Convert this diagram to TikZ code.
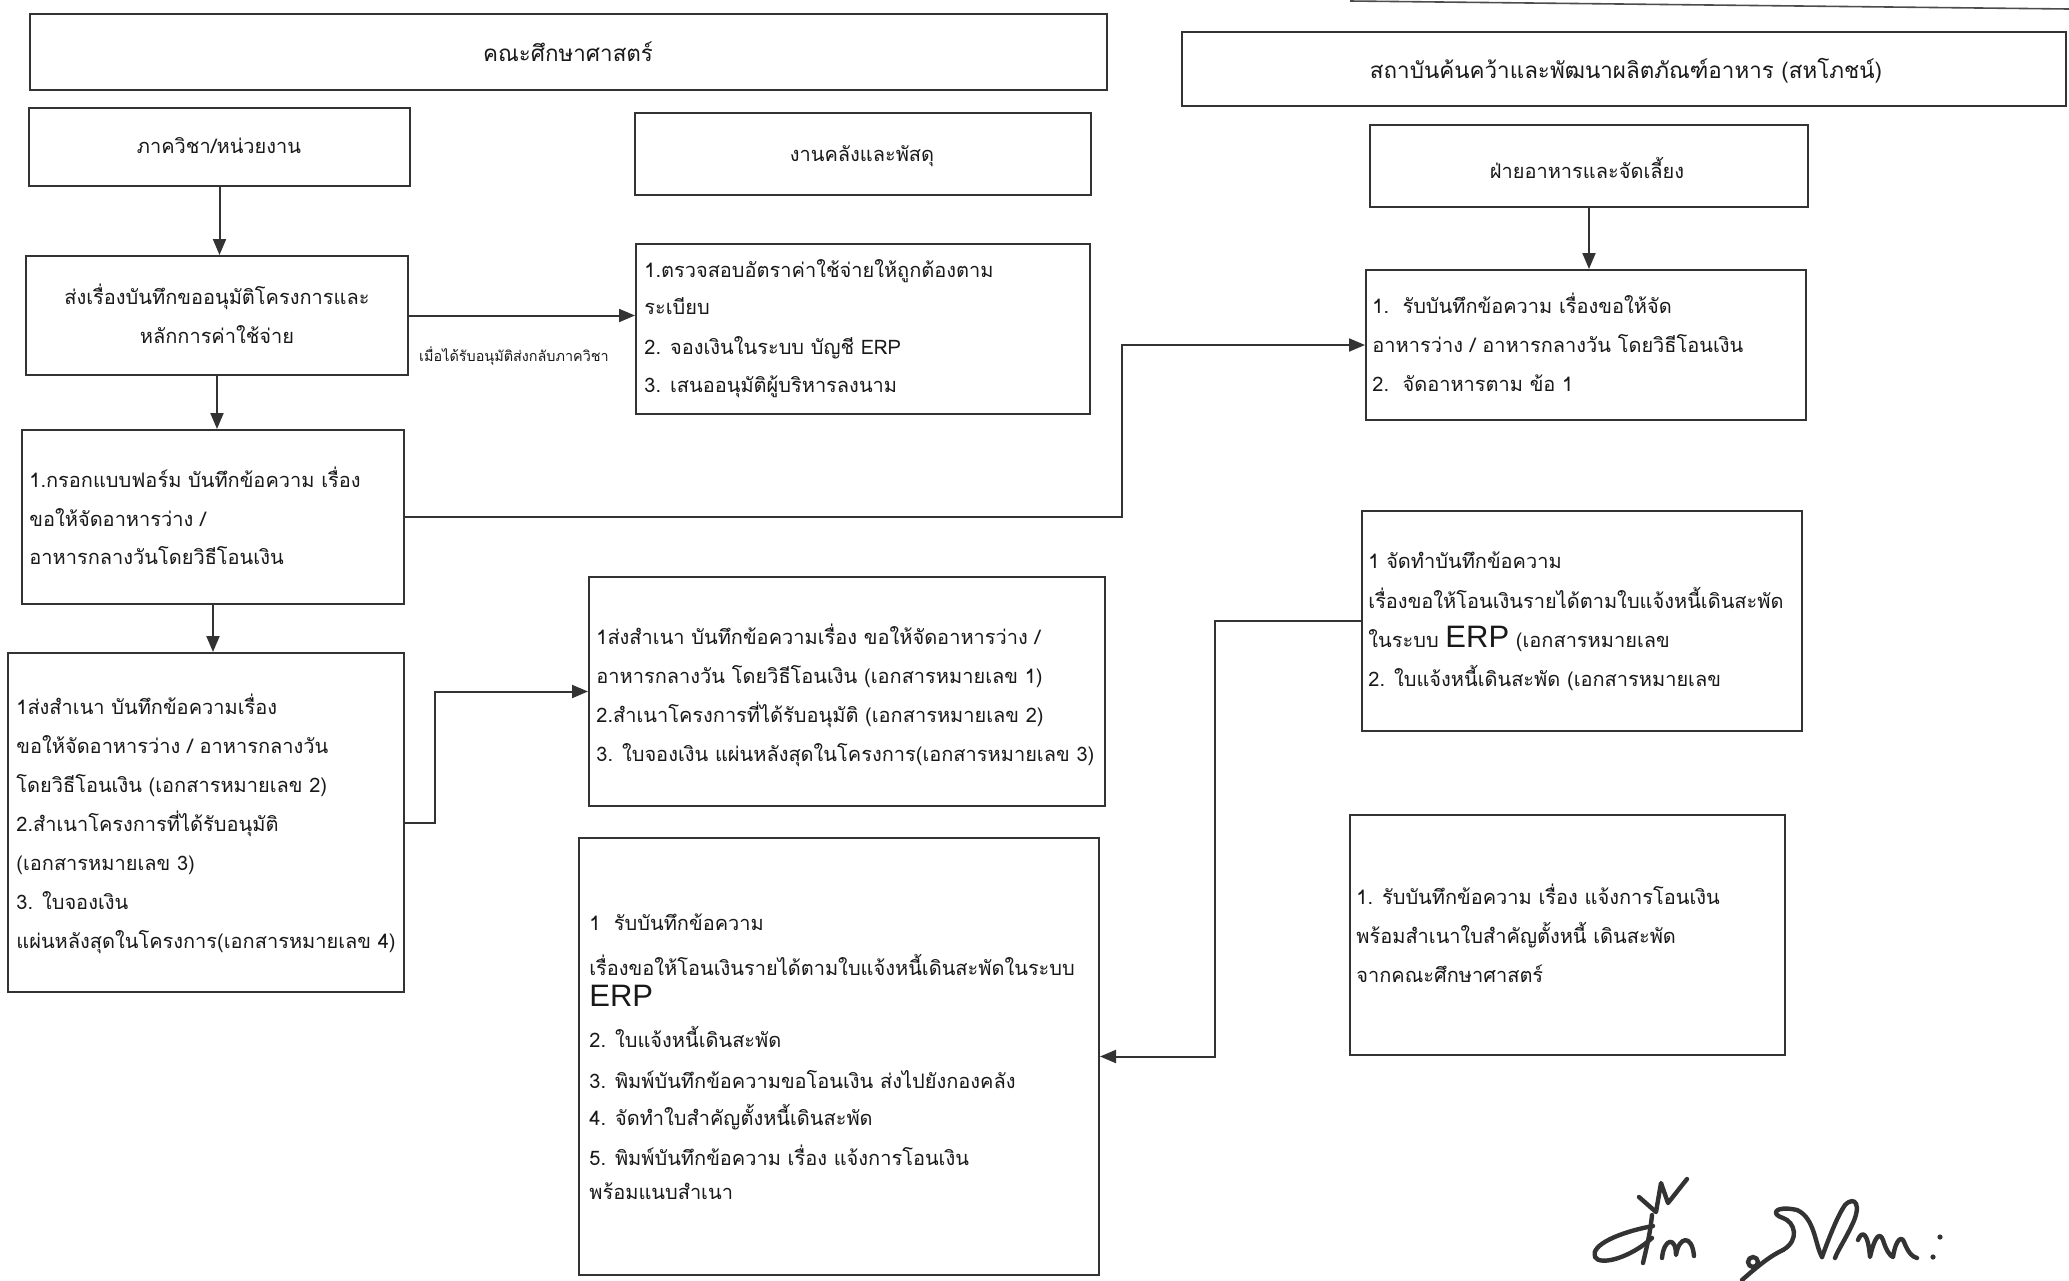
\documentclass[tikz,border=0pt]{standalone}
\usepackage{fontspec}
\newfontfamily\thaifont[Script=Thai]{Loma}
\newfontfamily\erpfont{Liberation Sans}
\usetikzlibrary{arrows.meta}
\newcommand\mybox[5]{\node[boxst, minimum width={(#4-#2)*0.5pt}, minimum height={(#5-#3)*0.5pt}] (#1) at ({(#2+#4)/2},{(#3+#5)/2}) {};}
\newcommand\bigerp{{\erpfont\fontsize{15.5}{19.5}\selectfont ERP}}
\begin{document}
\begin{tikzpicture}[x=0.5pt,y=-0.5pt,
  boxst/.style={draw=black!80, line width=1pt, inner sep=0pt},
  txt/.style={inner sep=0pt, text=black!90, font=\thaifont\fontsize{10}{19.5}\selectfont},
  head/.style={inner sep=0pt, text=black!90, font=\thaifont\fontsize{11.2}{16}\selectfont},
  small/.style={inner sep=0pt, text=black!90, font=\thaifont\fontsize{7.2}{10}\selectfont},
  arr/.style={draw=black!80, line width=1pt, -{Triangle[length=8pt,width=6.5pt]}},
  sig/.style={draw=black!80, line width=2.2pt, line cap=round, line join=round}]
\useasboundingbox (0,0) rectangle (2069,1281);
\fill[white] (0,0) rectangle (2069,1281);

% fragment of a line at the top edge
\draw[draw=black!70, line width=0.8pt] (1350,1) -- (2069,9);

% boxes
\mybox{hL}{30}{14}{1107}{90}
\mybox{hR}{1182}{32}{2066}{106}
\mybox{bPhak}{29}{108}{410}{186}
\mybox{bKlang}{635}{113}{1091}{195}
\mybox{bFai}{1370}{125}{1808}{207}
\mybox{bSong}{26}{256}{408}{375}
\mybox{bTruat}{636}{244}{1090}{414}
\mybox{bKrok}{22}{430}{404}{604}
\mybox{bRub}{1366}{270}{1806}{420}
\mybox{bSamL}{8}{653}{404}{992}
\mybox{bSamM}{589}{577}{1105}{806}
\mybox{bJat}{1362}{511}{1802}{731}
\mybox{bBotM}{579}{838}{1099}{1275}
\mybox{bBotR}{1350}{815}{1785}{1055}

% texts
\node[head] (hLt) at (568,52) {คณะศึกษาศาสตร์};
\node[head] (hRt) at (1626,71) {สถาบันค้นคว้าและพัฒนาผลิตภัณฑ์อาหาร (สหโภชน์)};
\node[txt] (bPhakt) at (219,146) {ภาควิชา/หน่วยงาน};
\node[txt] (bKlangt) at (862,156) {งานคลังและพัสดุ};
\node[txt] (bFait) at (1587,168) {ฝ่ายอาหารและจัดเลี้ยง};

\node[txt, anchor=base] (song1) at (217,304) {ส่งเรื่องบันทึกขออนุมัติโครงการและ};
\node[txt, anchor=base] (song2) at (217,343) {หลักการค่าใช้จ่าย};

\node[txt, anchor=base west] (tr1) at (644,277) {1.ตรวจสอบอัตราค่าใช้จ่ายให้ถูกต้องตาม};
\node[txt, anchor=base west] (tr2) at (644,314) {ระเบียบ};
\node[txt, anchor=base west] (tr3) at (644,354) {2. จองเงินในระบบ บัญชี ERP};
\node[txt, anchor=base west] (tr4) at (644,392) {3. เสนออนุมัติผู้บริหารลงนาม};

\node[txt, anchor=base west] (kr1) at (29,487) {1.กรอกแบบฟอร์ม บันทึกข้อความ เรื่อง};
\node[txt, anchor=base west] (kr2) at (29,526) {ขอให้จัดอาหารว่าง /};
\node[txt, anchor=base west] (kr3) at (29,564) {อาหารกลางวันโดยวิธีโอนเงิน};

\node[txt, anchor=base west] (rb1) at (1372,313) {1.\ \ รับบันทึกข้อความ เรื่องขอให้จัด};
\node[txt, anchor=base west] (rb2) at (1372,352) {อาหารว่าง / อาหารกลางวัน โดยวิธีโอนเงิน};
\node[txt, anchor=base west] (rb3) at (1372,391) {2.\ \ จัดอาหารตาม ข้อ 1};

\node[txt, anchor=base west] (sl1) at (16,714) {1ส่งสำเนา บันทึกข้อความเรื่อง};
\node[txt, anchor=base west] (sl2) at (16,753) {ขอให้จัดอาหารว่าง / อาหารกลางวัน};
\node[txt, anchor=base west] (sl3) at (16,792) {โดยวิธีโอนเงิน (เอกสารหมายเลข 2)};
\node[txt, anchor=base west] (sl4) at (16,831) {2.สำเนาโครงการที่ได้รับอนุมัติ};
\node[txt, anchor=base west] (sl5) at (16,870) {(เอกสารหมายเลข 3)};
\node[txt, anchor=base west] (sl6) at (16,909) {3. ใบจองเงิน};
\node[txt, anchor=base west] (sl7) at (16,948) {แผ่นหลังสุดในโครงการ(เอกสารหมายเลข 4)};

\node[txt, anchor=base west] (sm1) at (596,644) {1ส่งสำเนา บันทึกข้อความเรื่อง ขอให้จัดอาหารว่าง /};
\node[txt, anchor=base west] (sm2) at (596,683) {อาหารกลางวัน โดยวิธีโอนเงิน (เอกสารหมายเลข 1)};
\node[txt, anchor=base west] (sm3) at (596,722) {2.สำเนาโครงการที่ได้รับอนุมัติ (เอกสารหมายเลข 2)};
\node[txt, anchor=base west] (sm4) at (596,761) {3. ใบจองเงิน แผ่นหลังสุดในโครงการ(เอกสารหมายเลข 3)};

\node[txt, anchor=base west] (jt1) at (1368,568) {1 จัดทำบันทึกข้อความ};
\node[txt, anchor=base west] (jt2) at (1368,608) {เรื่องขอให้โอนเงินรายได้ตามใบแจ้งหนี้เดินสะพัด};
\node[txt, anchor=base west] (jt3) at (1368,647) {ในระบบ \bigerp{} (เอกสารหมายเลข};
\node[txt, anchor=base west] (jt4) at (1368,686) {2. ใบแจ้งหนี้เดินสะพัด (เอกสารหมายเลข};

\node[txt, anchor=base west] (bm1) at (589,930) {1\ \ รับบันทึกข้อความ};
\node[txt, anchor=base west] (bm2) at (589,975) {เรื่องขอให้โอนเงินรายได้ตามใบแจ้งหนี้เดินสะพัดในระบบ};
\node[txt, anchor=base west] (bm3) at (589,1006) {\bigerp};
\node[txt, anchor=base west] (bm4) at (589,1047) {2. ใบแจ้งหนี้เดินสะพัด};
\node[txt, anchor=base west] (bm5) at (589,1088) {3. พิมพ์บันทึกข้อความขอโอนเงิน ส่งไปยังกองคลัง};
\node[txt, anchor=base west] (bm6) at (589,1125) {4. จัดทำใบสำคัญตั้งหนี้เดินสะพัด};
\node[txt, anchor=base west] (bm7) at (589,1165) {5. พิมพ์บันทึกข้อความ เรื่อง แจ้งการโอนเงิน};
\node[txt, anchor=base west] (bm8) at (589,1199) {พร้อมแนบสำเนา};

\node[txt, anchor=base west] (br1) at (1356,904) {1. รับบันทึกข้อความ เรื่อง แจ้งการโอนเงิน};
\node[txt, anchor=base west] (br2) at (1356,943) {พร้อมสำเนาใบสำคัญตั้งหนี้ เดินสะพัด};
\node[txt, anchor=base west] (br3) at (1356,982) {จากคณะศึกษาศาสตร์};

\node[small] (lbl) at (514,356) {เมื่อได้รับอนุมัติส่งกลับภาควิชา};

% connectors
\coordinate (c4) at (1122,0);
\coordinate (c7) at (435,0);
\coordinate (c8) at (1215,0);
\draw[arr] (bPhak.south) -- (bPhak.south |- bSong.north);
\draw[arr] (bSong.east) -- (bSong.east -| bTruat.west);
\draw[arr] (bSong.south) -- (bSong.south |- bKrok.north);
\draw[arr] (bKrok.east) -| (c4 |- bRub.west) -- (bRub.west);
\draw[arr] (bFai.south) -- (bFai.south |- bRub.north);
\draw[arr] (bKrok.south) -- (bKrok.south |- bSamL.north);
\draw[arr] (bSamL.east) -| (c7 |- bSamM.west) -- (bSamM.west);
\draw[arr] (bJat.west) -| (c8 |- bBotM.east) -- (bBotM.east);

% signature
\draw[sig] (1639,1197) -- (1656,1212) -- (1661,1183) -- (1668,1203) -- (1687,1179);
\draw[sig] (1652,1215) .. controls (1650,1235) and (1646,1250) .. (1643,1263);
\draw[sig] (1653,1226) .. controls (1620,1232) and (1590,1245) .. (1595,1257) .. controls (1600,1266) and (1630,1258) .. (1652,1238);
\draw[sig] (1662,1258) .. controls (1664,1238) and (1676,1236) .. (1676,1255) .. controls (1679,1236) and (1692,1234) .. (1694,1256);
\draw[sig] (1742,1280) .. controls (1758,1266) and (1770,1256) .. (1783,1250);
\draw[sig] (1753,1262) circle[radius=5];
\draw[sig] (1783,1250) .. controls (1800,1240) and (1795,1222) .. (1783,1218) .. controls (1770,1214) and (1775,1205) .. (1797,1210) .. controls (1815,1218) and (1815,1245) .. (1822,1257);
\draw[sig] (1822,1257) .. controls (1830,1235) and (1838,1215) .. (1845,1205) .. controls (1855,1195) and (1862,1205) .. (1852,1225) .. controls (1845,1240) and (1838,1250) .. (1835,1258);
\draw[sig] (1858,1240) .. controls (1862,1230) and (1868,1232) .. (1870,1257) .. controls (1875,1235) and (1880,1232) .. (1883,1240) .. controls (1886,1250) and (1890,1256) .. (1893,1257) .. controls (1896,1238) and (1902,1236) .. (1904,1242) .. controls (1908,1252) and (1912,1257) .. (1917,1258);
\fill[black!80] (1940,1237) circle[radius=2.6];
\fill[black!80] (1933,1257) circle[radius=2.6];
\end{tikzpicture}
\end{document}
